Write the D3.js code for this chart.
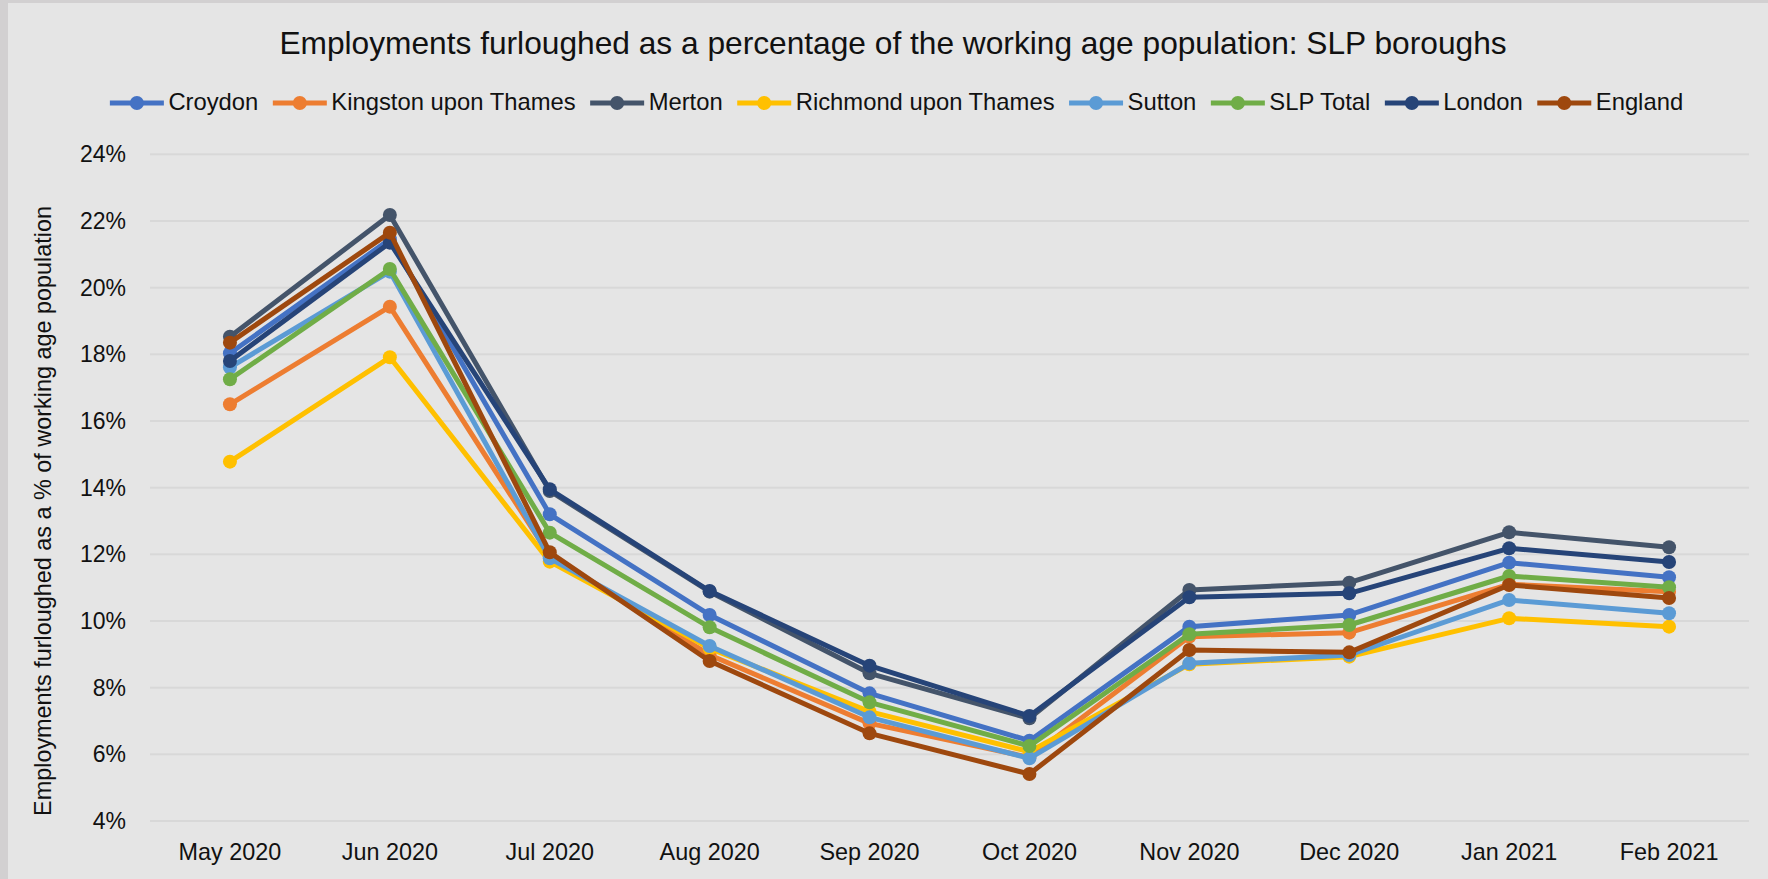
<!DOCTYPE html>
<html>
<head>
<meta charset="utf-8">
<script src="https://cdn.jsdelivr.net/npm/d3@7"></script>
<style>
  html, body { margin: 0; padding: 0; background: #d2d0d1; }
  svg { display: block; font-family: "Liberation Sans", Arial, sans-serif; }
</style>
</head>
<body>
<svg id="chart" width="1768" height="879"></svg>
<script>
// months along the x axis
const months = ["May 2020", "Jun 2020", "Jul 2020", "Aug 2020", "Sep 2020", "Oct 2020", "Nov 2020", "Dec 2020", "Jan 2021", "Feb 2021"];

// % of working age population furloughed
const croydon   = [18.03, 21.45, 13.20, 10.18, 7.83, 6.41, 9.83, 10.18, 11.75, 11.31];
const kingston  = [16.50, 19.43, 11.95,  8.98, 6.93, 5.91, 9.53,  9.65, 11.10, 10.88];
const merton    = [18.53, 22.18, 13.90, 10.88, 8.43, 7.08, 10.93, 11.15, 12.66, 12.21];
const richmond  = [14.78, 17.91, 11.78,  9.18, 7.28, 6.08, 8.70,  8.93, 10.08,  9.83];
const sutton    = [17.61, 20.48, 11.88,  9.25, 7.11, 5.88, 8.73,  8.98, 10.63, 10.23];
const slpTotal  = [17.25, 20.56, 12.65,  9.81, 7.56, 6.25, 9.60,  9.88, 11.35, 11.01];
const london    = [17.80, 21.35, 13.95, 10.90, 8.66, 7.15, 10.71, 10.83, 12.18, 11.77];
const england   = [18.35, 21.65, 12.06,  8.80, 6.63, 5.41, 9.13,  9.06, 11.08, 10.69];

const seriesNames  = ["Croydon", "Kingston upon Thames", "Merton", "Richmond upon Thames", "Sutton", "SLP Total", "London", "England"];
const seriesValues = [croydon, kingston, merton, richmond, sutton, slpTotal, london, england];
const seriesColors = ["#4472C4", "#ED7D31", "#44546A", "#FFC000", "#5B9BD5", "#70AD47", "#264478", "#9E480E"];

const yTicks = [4, 6, 8, 10, 12, 14, 16, 18, 20, 22, 24];

const titleText = "Employments furloughed as a percentage of the working age population: SLP boroughs";
const yTitleText = "Employments furloughed as a % of working age population";

const svg = d3.select('#chart');
const width = +svg.attr('width');
const height = +svg.attr('height');

// chart panel
svg.append('rect')
  .attr('x', 8).attr('y', 3)
  .attr('width', width - 8).attr('height', height - 3)
  .attr('fill', '#e5e5e5');

const plot = { left: 150, right: 1749, top: 154.3, bottom: 821 };

const x = d3.scaleBand().domain(months).range([plot.left, plot.right]);
const y = d3.scaleLinear().domain([4, 24]).range([plot.bottom, plot.top]);

// gridlines
svg.append('g')
  .selectAll('line').data(yTicks)
  .enter().append('line')
    .attr('x1', plot.left).attr('x2', plot.right)
    .attr('y1', d => y(d)).attr('y2', d => y(d))
    .attr('stroke', '#d8d8d8')
    .attr('stroke-width', 2);

// y axis labels
const yAxis = svg.append('g')
  .attr('transform', `translate(${plot.left - 24},0)`)
  .call(d3.axisLeft(y).tickValues(yTicks).tickFormat(d => d + '%').tickSize(0).tickPadding(0));
yAxis.select('.domain').remove();
yAxis.selectAll('text')
  .attr('font-size', 23)
  .attr('font-family', '"Liberation Sans", Arial, sans-serif')
  .attr('fill', '#111');

// x axis labels
const xAxis = svg.append('g')
  .attr('transform', `translate(0,${plot.bottom})`)
  .call(d3.axisBottom(x).tickSize(0).tickPadding(0));
xAxis.select('.domain').remove();
xAxis.selectAll('text')
  .attr('dy', 0)
  .attr('y', 39)
  .attr('font-size', 23.4)
  .attr('font-family', '"Liberation Sans", Arial, sans-serif')
  .attr('fill', '#111');

// y axis title
svg.append('text')
  .attr('transform', 'translate(51,511) rotate(-90)')
  .attr('text-anchor', 'middle')
  .attr('font-size', 23.4)
  .attr('fill', '#111')
  .text(yTitleText);

// title
svg.append('text')
  .attr('x', 893).attr('y', 54)
  .attr('text-anchor', 'middle')
  .attr('font-size', 31.7)
  .attr('fill', '#111')
  .text(titleText);

// lines
const line = d3.line()
  .x((d, i) => x(months[i]) + x.bandwidth() / 2)
  .y(d => y(d));

const series = svg.append('g').selectAll('g')
  .data(seriesValues)
  .enter().append('g');

series.append('path')
  .attr('d', d => line(d))
  .attr('fill', 'none')
  .attr('stroke', (d, i) => seriesColors[i])
  .attr('stroke-width', 5)
  .attr('stroke-linejoin', 'round')
  .attr('stroke-linecap', 'round');

series.each(function (vals, si) {
  d3.select(this).selectAll('circle').data(vals)
    .enter().append('circle')
      .attr('cx', (d, i) => x(months[i]) + x.bandwidth() / 2)
      .attr('cy', d => y(d))
      .attr('r', 7)
      .attr('fill', seriesColors[si]);
});

// legend
const legend = svg.append('g').attr('transform', 'translate(0,110)');
const items = legend.selectAll('g').data(seriesNames)
  .enter().append('g');

items.append('line')
  .attr('x1', 0).attr('x2', 54)
  .attr('y1', -7).attr('y2', -7)
  .attr('stroke', (d, i) => seriesColors[i])
  .attr('stroke-width', 5);
items.append('circle')
  .attr('cx', 27).attr('cy', -7).attr('r', 7)
  .attr('fill', (d, i) => seriesColors[i]);
items.append('text')
  .attr('x', 58.5)
  .attr('font-size', 23.8)
  .attr('fill', '#111')
  .text(d => d);

let offset = 0;
const offsets = [];
items.each(function () {
  offsets.push(offset);
  const w = d3.select(this).select('text').node().getComputedTextLength();
  offset += 58.5 + w + 14.5;
});
const totalW = offset - 14.5;
const startX = 896.5 - totalW / 2;
items.attr('transform', (d, i) => `translate(${startX + offsets[i]},0)`);
</script>
</body>
</html>
